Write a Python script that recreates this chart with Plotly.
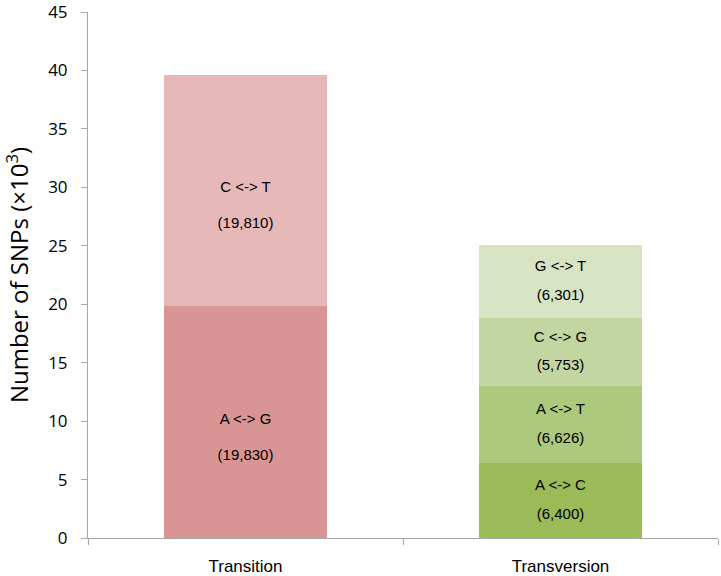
import numpy as np
import plotly.graph_objects as go

# one entry per stacked segment, bottom to top
groups = ["Transition", "Transition", "Transversion", "Transversion", "Transversion", "Transversion"]
substitutions = ["A <-> G", "C <-> T", "A <-> C", "A <-> T", "C <-> G", "G <-> T"]
counts = [19830, 19810, 6400, 6626, 5753, 6301]
colors = ["#D99594", "#E6B9B8", "#9BBB59", "#ADC97C", "#C3D6A1", "#D7E4C4"]

# label layout per group (in axis units): vertical shift of the label pair, gap between its two lines
label_shift = {"Transition": -1.35, "Transversion": 0.0}
label_gap = {"Transition": 3.1, "Transversion": 2.45}

vals = np.array(counts) / 1000
bases = []
running = {}
for grp, v in zip(groups, vals):
    bases.append(running.get(grp, 0.0))
    running[grp] = running.get(grp, 0.0) + v
centers = np.array(bases) + vals / 2

label_font = dict(family="Liberation Sans Narrow, Arial Narrow, Liberation Sans", size=15, color="#000000")

fig = go.Figure()
for grp, v, col in zip(groups, vals, colors):
    fig.add_trace(go.Bar(
        x=[grp], y=[v],
        marker=dict(color=col, line=dict(width=0)),
        showlegend=False, hoverinfo="skip",
    ))

mid = centers + np.array([label_shift[g] for g in groups])
half = np.array([label_gap[g] / 2 for g in groups])
fig.add_trace(go.Scatter(
    x=groups + groups,
    y=list(mid + half) + list(mid - half),
    text=substitutions + [f"({n:,})" for n in counts],
    mode="text", textposition="middle center",
    textfont=label_font, showlegend=False, hoverinfo="skip",
))

axis_grey = "#A6A6A6"
fig.update_layout(
    barmode="stack",
    bargap=0.48,
    width=721,
    height=576,
    margin=dict(l=88, r=3, t=12, b=38),
    plot_bgcolor="white",
    paper_bgcolor="white",
    xaxis=dict(
        automargin=False,
        showline=True, linecolor=axis_grey, linewidth=1,
        ticks="outside", tickson="boundaries", ticklen=6, tickcolor=axis_grey,
        ticklabelstandoff=13,
        tickfont=dict(family="Liberation Sans Narrow, Arial Narrow, Liberation Sans", size=17, color="#000000"),
    ),
    yaxis=dict(
        automargin=False,
        range=[0, 45], tickvals=[0, 5, 10, 15, 20, 25, 30, 35, 40, 45],
        showgrid=False, zeroline=False,
        showline=True, linecolor=axis_grey, linewidth=1,
        ticks="outside", ticklen=6, tickcolor=axis_grey,
        ticklabelstandoff=10, ticklabeloverflow="allow",
        tickfont=dict(family="Open Sans", size=17, color="#000000"),
        title=dict(text="Number of SNPs (×10<sup>3</sup>)", standoff=18,
                   font=dict(family="Open Sans", size=24, color="#000000")),
    ),
)

fig.write_html("out.html", config={"displayModeBar": False},
               post_script="document.body.style.margin='0';")
